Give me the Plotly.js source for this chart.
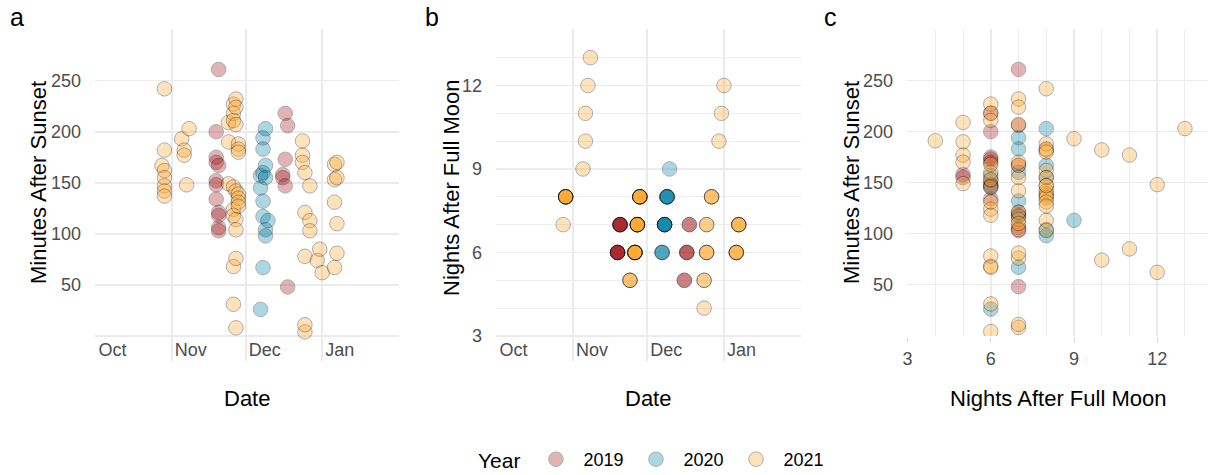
<!DOCTYPE html>
<html>
<head>
<meta charset="utf-8">
<script src="https://cdn.plot.ly/plotly-3.0.1.min.js"></script>
<style>
  html, body { margin: 0; padding: 0; background: #ffffff; }
  #chart { width: 1208px; height: 475px; }
</style>
</head>
<body>
<div id="chart"></div>
<script>
// ---------------- DATA ----------------
// Each group = one night of observation: calendar day (MM-DD), nights after full moon,
// and the list of observation times (minutes after sunset) recorded that night.
const years = ["2019", "2020", "2021"];
const yearColors = ["#A4161A", "#0081A7", "#FFA62B"];

const dates2019   = ["11-19", "11-20", "12-16", "12-17", "12-18"];
const nights2019  = [6, 7, 5, 6, 7];
const minutes2019 = [
  [200, 175, 170, 152, 148, 134],
  [261, 167, 121, 118, 106, 103],
  [158, 155],
  [218, 173, 147],
  [206, 48]
];

const dates2020   = ["12-07", "12-08", "12-09", "12-10"];
const nights2020  = [6, 7, 8, 9];
const minutes2020 = [
  [157, 145, 26],
  [194, 183, 160, 132, 117, 67],
  [203, 167, 155, 104, 98],
  [113]
];

const dates2021   = ["10-28", "10-29", "11-05", "11-06", "11-06", "11-07", "11-08",
                     "11-24", "11-26", "11-27", "11-28",
                     "12-24", "12-24", "12-25", "12-25", "12-27", "12-30", "12-31",
                     "01-01", "01-06", "01-07"];
const nights2021  = [7, 8, 9, 10, 11, 12, 13,
                     5, 6, 7, 8,
                     4, 5, 6, 7, 8, 10, 11,
                     12, 6, 7];
const minutes2021 = [
  [167],
  [242, 182, 162, 155, 147, 142, 137],
  [193], [182], [177], [148], [203],
  [209, 190, 149],
  [227, 218, 211, 146, 124, 118, 68, 31],
  [232, 224, 207, 142, 114, 104, 76, 8],
  [188, 183, 180, 139, 135, 131, 127],
  [191],
  [177, 170],
  [160, 78, 4],
  [121, 11],
  [147, 113, 103],
  [74], [85], [62],
  [168, 153, 131, 67],
  [170, 155, 110, 81]
];

const monthTickDates = ["10-01", "11-01", "12-01", "01-01", "02-01"];
const monthTickText  = ["Oct", "Nov", "Dec", "Jan", ""];
const minuteTicks    = [0, 50, 100, 150, 200, 250, 300];
const minuteTickText = ["", "50", "100", "150", "200", "250", ""];

// ---------------- helpers ----------------
// Season axis: Oct-Dec placed in one year, Jan-Feb in the following one (year is not shown)
function seasonDate(md) {
  const m = parseInt(md.slice(0, 2), 10);
  return (m >= 8 ? "2000-" : "2001-") + md;
}
function expand(dates, nights, minutes) {
  const d = [], n = [], m = [];
  dates.forEach((day, i) => {
    minutes[i].forEach(v => { d.push(seasonDate(day)); n.push(nights[i]); m.push(v); });
  });
  return { d, n, m };
}
const obs = [
  expand(dates2019, nights2019, minutes2019),
  expand(dates2020, nights2020, minutes2020),
  expand(dates2021, nights2021, minutes2021)
];

// ---------------- geometry (pixels -> paper) ----------------
const W = 1208, H = 475;
const px = v => v / W;
const py = v => 1 - v / H;

const FONT = "Liberation Sans, Arial, Helvetica, sans-serif";
const GRID = "#EBEBEB";
const TICKFONT = { family: FONT, size: 18, color: "#4D4D4D" };

const traces = [];
years.forEach((yr, k) => {
  const o = obs[k];
  const marker = {
    size: 14.5, color: yearColors[k], opacity: 0.32,
    line: { color: "#000000", width: 1 }
  };
  traces.push({ type: "scatter", mode: "markers", x: o.d, y: o.m, xaxis: "x", yaxis: "y",
    name: yr, legendgroup: yr, showlegend: true, marker: marker, hoverinfo: "skip" });
  traces.push({ type: "scatter", mode: "markers", x: o.d, y: o.n, xaxis: "x2", yaxis: "y2",
    name: yr, legendgroup: yr, showlegend: false, marker: marker, hoverinfo: "skip" });
  traces.push({ type: "scatter", mode: "markers", x: o.n, y: o.m, xaxis: "x3", yaxis: "y3",
    name: yr, legendgroup: yr, showlegend: false, marker: marker, hoverinfo: "skip" });
});

const dateRange = ["2000-09-30 20:00", "2001-02-01 04:00"];
function dateAxis(domain, anchor) {
  return {
    type: "date", domain: domain, anchor: anchor, range: dateRange,
    tickmode: "array", tickvals: monthTickDates.map(seasonDate), ticktext: monthTickText,
    ticklabelposition: "inside right", ticks: "",
    ticklabelstandoff: -5, ticklabelshift: 3,
    showgrid: true, gridcolor: GRID, gridwidth: 1.6,
    zeroline: false, showline: false, tickfont: TICKFONT, fixedrange: true
  };
}
function minutesAxis(domain, anchor, range) {
  return {
    domain: domain, anchor: anchor, range: range,
    tickmode: "array", tickvals: minuteTicks, ticktext: minuteTickText,
    showgrid: true, gridcolor: GRID, gridwidth: 1.6, ticks: "",
    ticklabelstandoff: 13,
    zeroline: false, showline: false, tickfont: TICKFONT, fixedrange: true
  };
}

const domA = [px(95), px(399)];
const domB = [px(496), px(801)];
const domC = [px(907), 1];
const domYext = [py(361), py(29)];   // panels a & b (month labels inside the panel)
const domYc   = [py(336), py(29)];   // panel c

function label(text, x, y, size, angle) {
  return { text: text, x: px(x), y: py(y), xref: "paper", yref: "paper",
    xanchor: "center", yanchor: "middle", textangle: angle || 0, showarrow: false,
    font: { family: FONT, size: size, color: "#000000" } };
}

const layout = {
  width: W, height: H,
  margin: { l: 0, r: 0, t: 0, b: 0, pad: 0, autoexpand: false },
  paper_bgcolor: "#ffffff", plot_bgcolor: "#ffffff",
  font: { family: FONT, color: "#000000" },
  showlegend: true,
  xaxis: dateAxis(domA, "y"),
  yaxis: minutesAxis(domYext, "x", [-24.5, 300.6]),
  xaxis2: dateAxis(domB, "y2"),
  yaxis2: {
    domain: domYext, anchor: "x2", range: [2.1, 14.03],
    tick0: 3, dtick: 3, ticks: "", ticklabelstandoff: 13,
    showgrid: true, gridcolor: GRID, gridwidth: 1.6,
    minor: { dtick: 1, tick0: 0, showgrid: true, gridcolor: GRID, gridwidth: 0.9 },
    zeroline: false, showline: false, tickfont: TICKFONT, fixedrange: true
  },
  xaxis3: {
    domain: domC, anchor: "y3", range: [2.98, 13.83],
    tick0: 3, dtick: 3, ticks: "outside", ticklen: 6, tickcolor: "#DDDDDD", tickwidth: 1,
    showgrid: true, gridcolor: GRID, gridwidth: 1.6,
    minor: { dtick: 1, tick0: 0, showgrid: true, gridcolor: GRID, gridwidth: 0.9 },
    zeroline: false, showline: false, tickfont: TICKFONT, fixedrange: true
  },
  yaxis3: minutesAxis(domYc, "x3", [-0.4, 300.6]),
  legend: {
    orientation: "h", x: px(476), xanchor: "left", y: py(460), yanchor: "middle",
    title: { text: "Year", side: "left", font: { family: FONT, size: 21, color: "#000000" } },
    font: { family: FONT, size: 18, color: "#000000" },
    itemwidth: 45, bgcolor: "rgba(0,0,0,0)", borderwidth: 0
  },
  annotations: [
    label("a", 17, 17, 25),
    label("b", 432, 17, 25),
    label("c", 830, 17, 25),
    label("Minutes After Sunset", 38, 183, 22, -90),
    label("Date", 247, 398, 22),
    label("Nights After Full Moon", 452, 188, 22, -90),
    label("Date", 648, 398, 22),
    label("Minutes After Sunset", 851, 183, 22, -90),
    label("Nights After Full Moon", 1058, 398, 22)
  ]
};

Plotly.newPlot("chart", traces, layout, { staticPlot: true, displayModeBar: false });
</script>
</body>
</html>
